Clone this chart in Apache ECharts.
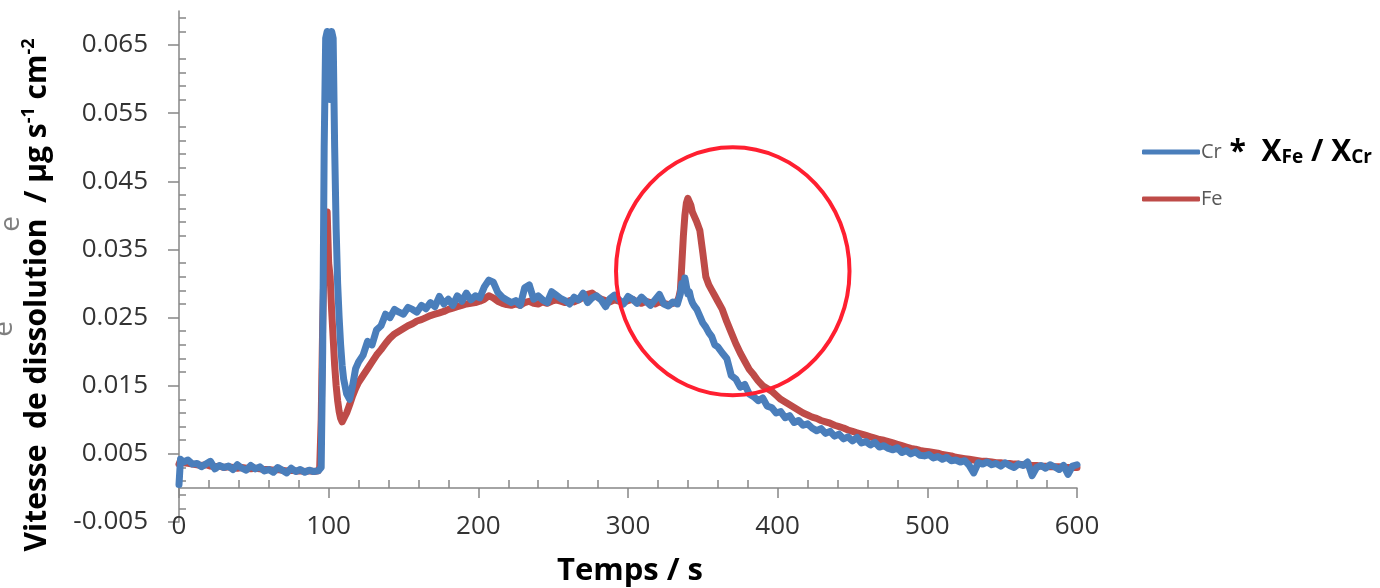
<!DOCTYPE html>
<html>
<head>
<meta charset="utf-8">
<script src="https://cdn.jsdelivr.net/npm/echarts@6/dist/echarts.min.js"></script>
<style>
html,body{margin:0;padding:0;background:#fff;}
#chart{width:1380px;height:588px;}
</style>
</head>
<body>
<div id="chart"></div>
<script>
// ---- data (time in s, dissolution rate in µg s-1 cm-2) ----
const timeS = [
  0,1,3,6,9,12,15,18,21,24,27,30,33,36,39,42,45,48,51,54,57,60,63,66,69,72,75,78,81,84,87,90,93,
  94,95,96,97,98,99,100,101,102,103,104,105,106,107,108,109,110,112,114,116,118,120,
  123,126,129,132,135,138,141,144,147,150,153,156,159,162,165,168,171,174,177,180,183,186,189,192,195,198,
  201,204,207,210,213,216,219,222,225,228,231,234,237,240,243,246,249,252,255,258,261,264,267,270,273,276,
  279,282,285,288,291,294,297,300,303,306,309,312,315,318,321,324,327,330,333,
  334,335,336,337,338,339,340,341,342,343,344,346,348,350,352,354,356,358,360,
  363,366,369,372,375,378,381,384,387,390,393,396,399,402,405,408,411,414,417,420,
  423,426,429,432,435,438,441,444,447,450,453,456,459,462,465,468,471,474,477,480,
  483,486,489,492,495,498,501,504,507,510,513,516,519,522,525,528,531,534,537,540,
  543,546,549,552,555,558,561,564,567,570,573,576,579,582,585,588,591,594,597,600
];
const crRate = [
  0.0005,0.0042,0.0038,0.0041,0.0035,0.0036,0.0031,0.0035,0.0039,0.0028,0.0033,0.0030,0.0032,0.0027,0.0034,0.0029,0.0026,0.0033,0.0028,0.0031,0.0025,0.0027,0.0023,0.0030,0.0026,0.0022,0.0029,0.0024,0.0027,0.0023,0.0026,0.0024,0.0025,
  0.0024,0.0030,0.020,0.050,0.066,0.067,0.060,0.057,0.067,0.066,0.050,0.038,0.030,0.025,0.021,0.018,0.016,0.0138,0.0130,0.0150,0.0175,0.0185,
  0.0195,0.0215,0.0210,0.0232,0.0238,0.0255,0.0250,0.0262,0.0258,0.0255,
  0.0265,0.0262,0.0258,0.0268,0.0263,0.0272,0.0266,0.0281,0.0270,0.0277,
  0.0268,0.0282,0.0274,0.0286,0.0276,0.0282,0.0279,0.0295,0.0305,0.0302,
  0.0287,0.0280,0.0276,0.0272,0.0275,0.0268,0.0294,0.0298,0.0277,0.0282,
  0.0276,0.0272,0.0288,0.0283,0.0278,0.0275,0.0270,0.0280,0.0276,0.0286,
  0.0272,0.0279,0.0282,0.0276,0.0266,0.0278,0.0283,0.0276,0.0270,0.0281,
  0.0277,0.0271,0.0280,0.0274,0.0268,0.0276,0.0284,0.0270,0.0267,0.0273,
  0.0270,
  0.0268,0.0285,0.0300,0.0290,0.0308,0.0296,0.0285,0.0288,0.0278,0.0272,0.0268,0.0262,0.0252,0.0242,0.0236,0.0228,0.0222,0.0210,0.0207,
  0.0198,0.0190,0.0165,0.0160,0.0148,0.0152,0.0138,0.0134,0.0128,0.0132,
  0.0120,0.0118,0.0110,0.0112,0.0103,0.0106,0.0096,0.0099,0.0092,0.0094,
  0.0088,0.0084,0.0087,0.0080,0.0083,0.0076,0.0079,0.0072,0.0075,0.0069,
  0.0074,0.0066,0.0068,0.0063,0.0067,0.0060,0.0062,0.0058,0.0056,0.0059,
  0.0052,0.0055,0.0050,0.0053,0.0048,0.0047,0.0049,0.0044,0.0046,0.0042,
  0.0045,0.0040,0.0041,0.0038,0.0040,0.0033,0.0022,0.0037,0.0035,0.0038,
  0.0034,0.0036,0.0032,0.0037,0.0033,0.0030,0.0035,0.0033,0.0038,0.0018,
  0.0030,0.0033,0.0029,0.0034,0.0031,0.0027,0.0033,0.0020,0.0032,0.0034
];
const feRate = [
  0.0035,0.0040,0.0037,0.0036,0.0035,0.0034,0.0033,0.0034,0.0032,0.0031,0.0032,0.0030,0.0031,0.0030,0.0029,0.0030,0.0029,0.0028,0.0029,0.0028,0.0027,0.0027,0.0026,0.0027,0.0026,0.0025,0.0026,0.0025,0.0025,0.0024,0.0025,0.0024,0.0025,
  0.0030,0.010,0.024,0.034,0.039,0.0405,0.033,0.031,0.026,0.022,0.018,0.015,0.0128,0.0112,0.0102,0.0097,0.0099,0.0110,0.0122,0.0135,0.0146,0.0155,
  0.0165,0.0175,0.0185,0.0195,0.0203,0.0212,0.0220,0.0226,0.0230,0.0234,
  0.0238,0.0241,0.0245,0.0247,0.0250,0.0253,0.0255,0.0257,0.0259,0.0262,
  0.0264,0.0266,0.0268,0.0270,0.0271,0.0272,0.0274,0.0277,0.0282,0.0279,
  0.0274,0.0271,0.0269,0.0268,0.0270,0.0268,0.0272,0.0274,0.0271,0.0270,
  0.0273,0.0271,0.0274,0.0276,0.0274,0.0272,0.0275,0.0273,0.0276,0.0280,
  0.0284,0.0286,0.0281,0.0277,0.0275,0.0273,0.0276,0.0274,0.0272,0.0275,
  0.0277,0.0273,0.0271,0.0274,0.0272,0.0270,0.0273,0.0271,0.0269,0.0271,
  0.0274,
  0.0280,0.0290,0.0330,0.0370,0.0400,0.0418,0.0425,0.0424,0.0415,0.0405,0.0400,0.0390,0.0378,0.0345,0.0310,0.0298,0.0290,0.0282,0.0274,
  0.0262,0.0244,0.0228,0.0212,0.0198,0.0186,0.0174,0.0166,0.0157,0.0150,
  0.0146,0.0142,0.0136,0.0130,0.0126,0.0122,0.0118,0.0114,0.0110,0.0107,
  0.0104,0.0102,0.0099,0.0097,0.0095,0.0092,0.0090,0.0088,0.0085,0.0083,
  0.0081,0.0079,0.0077,0.0075,0.0073,0.0071,0.0070,0.0068,0.0066,0.0064,
  0.0062,0.0060,0.0058,0.0057,0.0055,0.0054,0.0053,0.0052,0.0051,0.0049,
  0.0048,0.0047,0.0045,0.0044,0.0043,0.0042,0.0041,0.0040,0.0039,0.0039,
  0.0038,0.0037,0.0037,0.0036,0.0036,0.0035,0.0035,0.0034,0.0034,0.0033,
  0.0033,0.0032,0.0032,0.0031,0.0031,0.0031,0.0030,0.0030,0.0030,0.0030
];
const seriesNames = ['Cr', 'Fe'];
const xTitle = 'Temps / s';
// annotation ellipse in data units: centre [s, rate], radii [s, rate]
const circleCenter = [370, 0.0318];
const circleRadius = [78, 0.0182];

if (crRate.length !== timeS.length || feRate.length !== timeS.length) {
  throw new Error('length mismatch ' + timeS.length + ' ' + crRate.length + ' ' + feRate.length);
}

const crData = timeS.map((t, i) => [t, crRate[i]]);
const feData = timeS.map((t, i) => [t, feRate[i]]);

const AX = '#868686';
const chart = echarts.init(document.getElementById('chart'), null, {renderer: 'canvas'});
const option = {
  animation: false,
  backgroundColor: '#ffffff',
  grid: {left: 179, right: 303, top: 11, bottom: 66, containLabel: false},
  legend: {
    data: seriesNames,
    orient: 'vertical',
    left: 1137,
    top: 130,
    icon: 'roundRect',
    itemWidth: 58,
    itemHeight: 5,
    itemGap: 22,
    formatter: function (name) {
      if (name === 'Cr') return '{g|Cr}{k| *  X}{s|Fe}{k| / X}{s|Cr}';
      return '{g|' + name + '}';
    },
    textStyle: {
      padding: [0, 0, 0, -4],
      rich: {
        g: {fontFamily: 'Open Sans', fontSize: 20, color: '#595959', lineHeight: 30},
        k: {fontFamily: 'Open Sans', fontWeight: 'bold', fontSize: 30, color: '#000', lineHeight: 30},
        s: {fontFamily: 'Open Sans', fontWeight: 'bold', fontSize: 19, color: '#000', lineHeight: 30, verticalAlign: 'bottom', padding: [13, 0, 0, 0]}
      }
    }
  },
  xAxis: [
    {
      type: 'value', min: 0, max: 600, interval: 100, position: 'bottom',
      axisLine: {show: false, onZero: false},
      axisTick: {show: false},
      splitLine: {show: false},
      axisLabel: {fontFamily: 'Open Sans', fontSize: 26, color: '#333', margin: -8}
    },
    {
      type: 'value', min: 0, max: 600, interval: 100, position: 'bottom',
      axisLine: {show: true, onZero: true, lineStyle: {color: AX, width: 1.5}},
      axisTick: {show: false, inside: true},
      minorTick: {show: true, splitNumber: 5, length: 8, lineStyle: {color: AX, width: 1.5}},
      splitLine: {show: false}, minorSplitLine: {show: false},
      axisLabel: {show: false}
    },
    {
      type: 'value', min: 0, max: 600, interval: 100, position: 'bottom',
      axisLine: {show: false, onZero: true},
      axisTick: {show: true, inside: false, length: 10, lineStyle: {color: AX, width: 1.5}},
      splitLine: {show: false},
      axisLabel: {show: false}
    }
  ],
  yAxis: [
    {
      type: 'value', min: -0.005, max: 0.07, interval: 0.01, position: 'left',
      axisLine: {show: true, onZero: false, lineStyle: {color: AX, width: 1.5}},
      axisTick: {show: true, length: 11, lineStyle: {color: AX, width: 1.5}},
      splitLine: {show: false},
      axisLabel: {
        fontFamily: 'Open Sans', fontSize: 26, color: '#333', margin: 31, showMaxLabel: false,
        formatter: function (v) { return Math.abs(v - 0.07) < 1e-9 ? '' : v.toFixed(3); }
      }
    },
    {
      type: 'value', min: -0.005, max: 0.07, interval: 0.01, position: 'left',
      axisLine: {show: false, onZero: false},
      axisTick: {show: false, inside: true},
      minorTick: {show: true, splitNumber: 5, length: 7, lineStyle: {color: AX, width: 1.5}},
      splitLine: {show: false},
      axisLabel: {show: false}
    }
  ],
  series: [
    {
      name: 'Fe', type: 'line', data: feData, xAxisIndex: 0, yAxisIndex: 0,
      showSymbol: false, symbol: 'none', z: 2,
      color: '#be4b48',
      lineStyle: {color: '#be4b48', width: 7, cap: 'round', join: 'round'}
    },
    {
      name: 'Cr', type: 'line', data: crData, xAxisIndex: 0, yAxisIndex: 0,
      showSymbol: false, symbol: 'none', z: 3,
      color: '#4a7ebb',
      lineStyle: {color: '#4a7ebb', width: 7, cap: 'round', join: 'round'}
    }
  ]
};
chart.setOption(option);

// annotation + titles positioned through the chart's scales
const c = chart.convertToPixel({xAxisIndex: 0, yAxisIndex: 0}, circleCenter);
const e = chart.convertToPixel({xAxisIndex: 0, yAxisIndex: 0}, [circleCenter[0] + circleRadius[0], circleCenter[1] + circleRadius[1]]);
const rx = Math.abs(e[0] - c[0]);
const ry = Math.abs(c[1] - e[1]);
const xMid = chart.convertToPixel({xAxisIndex: 0}, 300);

chart.setOption({
  graphic: [
    {
      type: 'ellipse', shape: {cx: c[0], cy: c[1], rx: rx, ry: ry}, z: 10,
      style: {fill: 'none', stroke: '#ff1f30', lineWidth: 4}
    },
    {
      type: 'text', x: xMid + 2, y: 571, z: 10,
      style: {text: xTitle, fontFamily: 'Open Sans', fontWeight: 'bold', fontSize: 31, fill: '#000', align: 'center', verticalAlign: 'middle'}
    },
    {
      type: 'text', x: 37, y: 295, rotation: Math.PI / 2, z: 10,
      style: {
        text: '{t|Vitesse  de dissolution  / µg s}{p|-1}{t| cm}{p|-2}',
        align: 'center', verticalAlign: 'middle',
        rich: {
          t: {fontFamily: 'Open Sans', fontWeight: 'bold', fontSize: 30, fill: '#000', lineHeight: 34},
          p: {fontFamily: 'Open Sans', fontWeight: 'bold', fontSize: 18, fill: '#000', lineHeight: 34, verticalAlign: 'top', padding: [0, 0, 12, 0]}
        }
      }
    },
    {
      type: 'text', x: 11, y: 224, rotation: Math.PI / 2, z: 10,
      style: {text: 'e', fontFamily: 'Open Sans', fontSize: 28, fill: '#7f7f7f', align: 'center', verticalAlign: 'middle'}
    },
    {
      type: 'text', x: 4, y: 329, rotation: Math.PI / 2, z: 10,
      style: {text: 'e', fontFamily: 'Open Sans', fontSize: 28, fill: '#7f7f7f', align: 'center', verticalAlign: 'middle'}
    }
  ]
});
</script>
</body>
</html>
